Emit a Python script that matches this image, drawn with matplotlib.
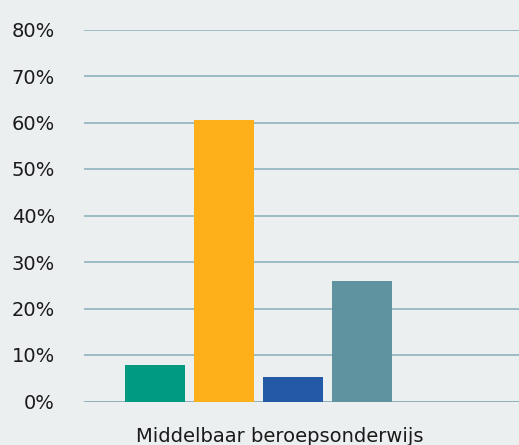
import matplotlib
matplotlib.use("Agg")
import matplotlib.pyplot as plt
import numpy as np

category = "Middelbaar beroepsonderwijs"
series_values = [7.8, 60.5, 5.3, 25.9]
series_colors = ["#009A80", "#FDB01A", "#2459A8", "#6093A0"]
yticks = [0, 10, 20, 30, 40, 50, 60, 70, 80]
ytick_labels = [f"{v}%" for v in yticks]

bg = "#EBEFF0"
fig = plt.figure(figsize=(5.19, 4.45), dpi=100, facecolor=bg)
W, H = 519, 445
ax = fig.add_axes([84 / W, (H - 401.5) / H, (W - 84) / W, (401.5 - 29.5) / H])
ax.set_facecolor(bg)

# x in pixel-like units within axes
ax.set_xlim(84, 519)
ax.set_ylim(0, 80)
group_center = 258.5
spacing = 69
width = 60
n = len(series_values)
offsets = (np.arange(n) - (n - 1) / 2) * spacing
for off, v, c in zip(offsets, series_values, series_colors):
    ax.bar(group_center + off, v, width=width, color=c, zorder=3)

for y in yticks:
    ax.axhline(y, color="#8FB2BD" if y else "#7FA6B3", lw=1.2, zorder=1)

ax.set_yticks(yticks)
ax.set_yticklabels(ytick_labels, fontsize=14, color="#1a1a1a")
ax.tick_params(axis="y", length=0, pad=21)
ax.set_xticks([280])
ax.set_xticklabels([category], fontsize=14, color="#1a1a1a")
ax.tick_params(axis="x", length=0, pad=18)
for s in ax.spines.values():
    s.set_visible(False)

fig.savefig("out.png", dpi=100, facecolor=bg)
